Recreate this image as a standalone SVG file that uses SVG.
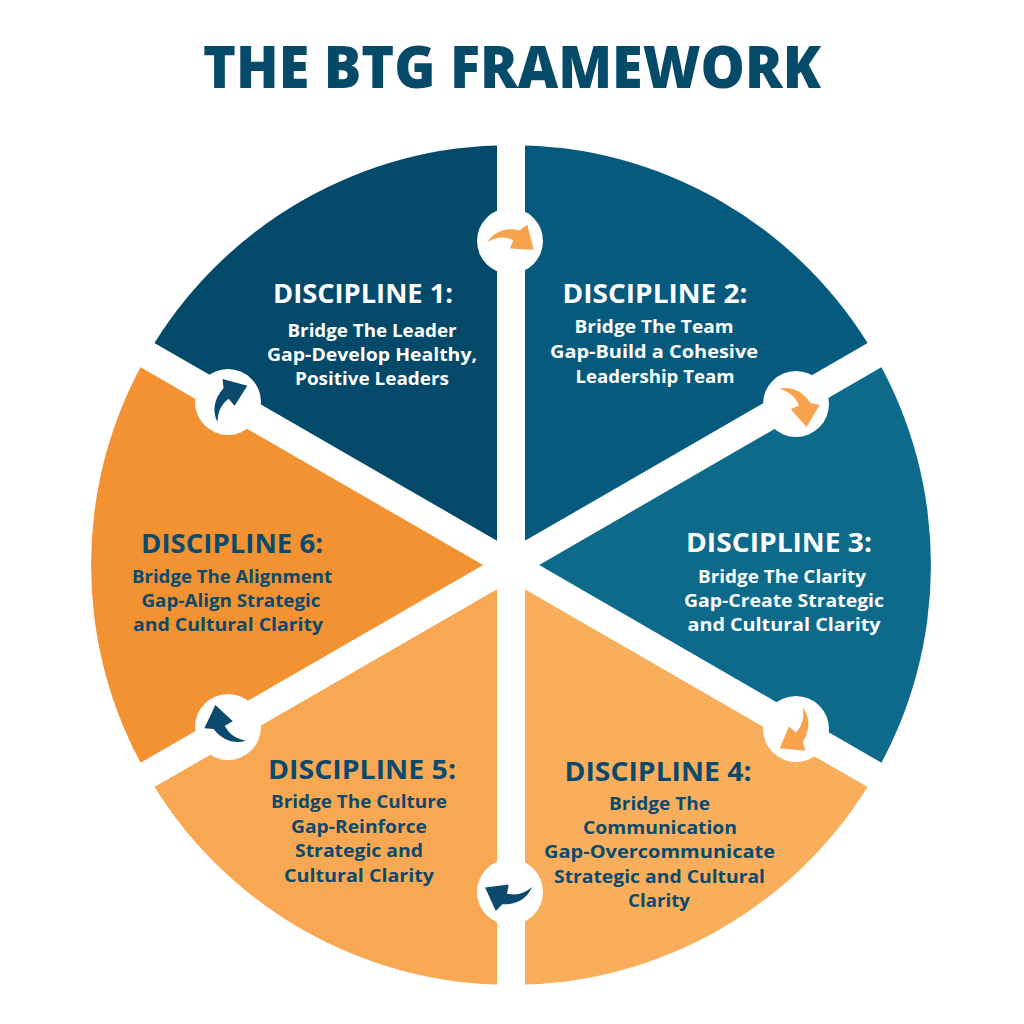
<svg xmlns="http://www.w3.org/2000/svg" width="1024" height="1024" viewBox="0 0 1024 1024">
  <defs>
    <style>
      .title { font-family: "Open Sans", "Liberation Sans", sans-serif; font-weight: 800; font-size: 58px; fill: #064a6a; text-anchor: middle; }
      .hd { font-family: "Open Sans", "Liberation Sans", sans-serif; font-weight: 700; font-size: 27px; text-anchor: middle; }
      .sb { font-family: "Open Sans", "Liberation Sans", sans-serif; font-weight: 700; font-size: 18.5px; text-anchor: middle; }
      .w { fill: #ffffff; }
      .n { fill: #0b4a6c; }
      .gap { stroke: #ffffff; stroke-width: 28; fill: none; }
      .hub { fill: #ffffff; }
      .ao { fill: #f8a24b; }
      .an { fill: #0b4a6c; }
    </style>
    <path id="arrow" d="M-21,1 C-15,-8 -5,-13 9,-10 L16,-15 L22,8 L0,7 L3,-1 C-6,-5 -14,-3 -21,1 Z"/>
  </defs>
  <rect width="1024" height="1024" fill="#ffffff"/>
  <text class="title" x="512" y="88" textLength="618" lengthAdjust="spacingAndGlyphs">THE BTG FRAMEWORK</text>

  <g id="segments">
    <path id="seg1" d="M511,565 L511,145 A420,420 0 0 0 147.3,355 Z" fill="#03496a"/>
    <path id="seg2" d="M511,565 L874.7,355 A420,420 0 0 0 511,145 Z" fill="#055a7d"/>
    <path id="seg3" d="M511,565 L874.7,775 A420,420 0 0 0 874.7,355 Z" fill="#0d6a8b"/>
    <path id="seg4" d="M511,565 L511,985 A420,420 0 0 0 874.7,775 Z" fill="#f9ae5b"/>
    <path id="seg5" d="M511,565 L147.3,775 A420,420 0 0 0 511,985 Z" fill="#f8a853"/>
    <path id="seg6" d="M511,565 L147.3,355 A420,420 0 0 0 147.3,775 Z" fill="#f29232"/>
  </g>

  <g id="connectors">
    <line class="gap" x1="511" y1="130" x2="511" y2="1000"/>
    <line class="gap" x1="130" y1="785" x2="892" y2="345"/>
    <line class="gap" x1="130" y1="345" x2="892" y2="785"/>
    <g id="arrow-1-2">
      <circle class="hub" cx="510" cy="241" r="33"/>
      <use href="#arrow" class="ao" transform="translate(510,241) rotate(0) scale(1.08)"/>
    </g>
    <g id="arrow-2-3">
      <circle class="hub" cx="796" cy="404" r="33"/>
      <use href="#arrow" class="ao" transform="translate(796,404) rotate(45) scale(1.08)"/>
    </g>
    <g id="arrow-3-4">
      <circle class="hub" cx="796" cy="729" r="33"/>
      <use href="#arrow" class="ao" transform="translate(796,729) rotate(110) scale(1.08)"/>
    </g>
    <g id="arrow-4-5">
      <circle class="hub" cx="510" cy="892" r="33"/>
      <use href="#arrow" class="an" transform="translate(510,892) rotate(170) scale(1.08)"/>
    </g>
    <g id="arrow-5-6">
      <circle class="hub" cx="228" cy="727" r="33"/>
      <use href="#arrow" class="an" transform="translate(228,727) rotate(220) scale(1.08)"/>
    </g>
    <g id="arrow-6-1">
      <circle class="hub" cx="228" cy="402" r="33"/>
      <use href="#arrow" class="an" transform="translate(228,402) rotate(300) scale(1.08)"/>
    </g>
  </g>

  <g id="node1">
    <text class="hd w" x="363" y="303" textLength="180" lengthAdjust="spacingAndGlyphs">DISCIPLINE 1:</text>
    <text class="sb w" x="372" y="337" textLength="169" lengthAdjust="spacingAndGlyphs">Bridge The Leader</text>
    <text class="sb w" x="372" y="361" textLength="210" lengthAdjust="spacingAndGlyphs">Gap-Develop Healthy,</text>
    <text class="sb w" x="372" y="385" textLength="154" lengthAdjust="spacingAndGlyphs">Positive Leaders</text>
  </g>
  <g id="node2">
    <text class="hd w" x="655" y="303" textLength="185" lengthAdjust="spacingAndGlyphs">DISCIPLINE 2:</text>
    <text class="sb w" x="654" y="333" textLength="159" lengthAdjust="spacingAndGlyphs">Bridge The Team</text>
    <text class="sb w" x="654" y="358" textLength="208" lengthAdjust="spacingAndGlyphs">Gap-Build a Cohesive</text>
    <text class="sb w" x="655" y="383" textLength="159" lengthAdjust="spacingAndGlyphs">Leadership Team</text>
  </g>
  <g id="node3">
    <text class="hd w" x="779" y="552" textLength="186" lengthAdjust="spacingAndGlyphs">DISCIPLINE 3:</text>
    <text class="sb w" x="782" y="583" textLength="168" lengthAdjust="spacingAndGlyphs">Bridge The Clarity</text>
    <text class="sb w" x="784" y="607" textLength="200" lengthAdjust="spacingAndGlyphs">Gap-Create Strategic</text>
    <text class="sb w" x="784" y="631" textLength="193" lengthAdjust="spacingAndGlyphs">and Cultural Clarity</text>
  </g>
  <g id="node4">
    <text class="hd n" x="658" y="781" textLength="187" lengthAdjust="spacingAndGlyphs">DISCIPLINE 4:</text>
    <text class="sb n" x="659.5" y="810" textLength="101" lengthAdjust="spacingAndGlyphs">Bridge The</text>
    <text class="sb n" x="660" y="834" textLength="154" lengthAdjust="spacingAndGlyphs">Communication</text>
    <text class="sb n" x="659.5" y="858" textLength="231" lengthAdjust="spacingAndGlyphs">Gap-Overcommunicate</text>
    <text class="sb n" x="659.5" y="883" textLength="211" lengthAdjust="spacingAndGlyphs">Strategic and Cultural</text>
    <text class="sb n" x="659" y="907" textLength="62" lengthAdjust="spacingAndGlyphs">Clarity</text>
  </g>
  <g id="node5">
    <text class="hd n" x="362" y="779" textLength="188" lengthAdjust="spacingAndGlyphs">DISCIPLINE 5:</text>
    <text class="sb n" x="359" y="808" textLength="176" lengthAdjust="spacingAndGlyphs">Bridge The Culture</text>
    <text class="sb n" x="359" y="833" textLength="136" lengthAdjust="spacingAndGlyphs">Gap-Reinforce</text>
    <text class="sb n" x="359" y="857" textLength="128" lengthAdjust="spacingAndGlyphs">Strategic and</text>
    <text class="sb n" x="359" y="882" textLength="150" lengthAdjust="spacingAndGlyphs">Cultural Clarity</text>
  </g>
  <g id="node6">
    <text class="hd n" x="232" y="553" textLength="182" lengthAdjust="spacingAndGlyphs">DISCIPLINE 6:</text>
    <text class="sb n" x="232" y="583" textLength="200" lengthAdjust="spacingAndGlyphs">Bridge The Alignment</text>
    <text class="sb n" x="231" y="607" textLength="179" lengthAdjust="spacingAndGlyphs">Gap-Align Strategic</text>
    <text class="sb n" x="228" y="631" textLength="190" lengthAdjust="spacingAndGlyphs">and Cultural Clarity</text>
  </g>
</svg>
